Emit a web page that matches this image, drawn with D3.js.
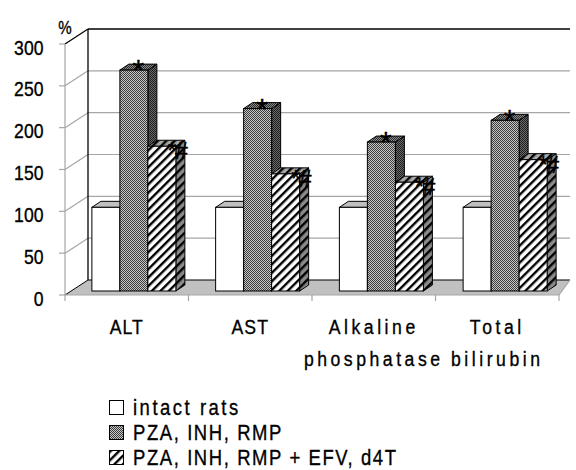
<!DOCTYPE html>
<html>
<head>
<meta charset="utf-8">
<script src="https://cdn.jsdelivr.net/npm/d3@7"></script>
<style>
  html, body { margin: 0; padding: 0; background: #fff; }
  svg { display: block; }
  text { font-family: "Liberation Sans", Arial, sans-serif; fill: #000; }
</style>
</head>
<body>
<svg id="chart" width="576" height="470"></svg>
<script>
// ---- data ----
const categories = [["ALT"], ["AST"], ["Alkaline", "phosphatase"], ["Total", "bilirubin"]];
const seriesNames = ["intact rats", "PZA, INH, RMP", "PZA, INH, RMP + EFV, d4T"];
const intact = [100, 100, 100, 100];
const pzaInhRmp = [264, 218, 178, 204];
const plusEfvD4t = [173, 140, 130, 157];
const markers = ["", "*", "*#"];
const yTicks = [0, 50, 100, 150, 200, 250, 300];

const series = [intact, pzaInhRmp, plusEfvD4t];

const svg = d3.select("#chart");
const defs = svg.append("defs");
const NARROW = 0.84;

// narrow text helper (condensed look of the original font)
function ntext(sel, x, y, str, size, anchor, spacing) {
  return sel.append("text")
    .attr("transform", `translate(${x},${y}) scale(${NARROW},1)`)
    .attr("text-anchor", anchor || "start")
    .attr("font-size", size)
    .attr("letter-spacing", spacing || 0)
    .attr("stroke", "#000").attr("stroke-width", 0.35)
    .text(str);
}

// ---- patterns ----
function checker(id, a, b) {
  const p = defs.append("pattern").attr("id", id).attr("patternUnits", "userSpaceOnUse")
    .attr("width", 2).attr("height", 2);
  p.append("rect").attr("width", 2).attr("height", 2).attr("fill", b);
  p.append("rect").attr("width", 1).attr("height", 1).attr("fill", a);
  p.append("rect").attr("x", 1).attr("y", 1).attr("width", 1).attr("height", 1).attr("fill", a);
}
checker("dotFront", "#3a3a3a", "#c8c8c8");
checker("dotTop", "#2a2a2a", "#8a8a8a");
checker("dotSide", "#1e1e1e", "#6a6a6a");
function hatch(id, bg) {
  const p = defs.append("pattern").attr("id", id).attr("patternUnits", "userSpaceOnUse")
    .attr("width", 6).attr("height", 6).attr("patternTransform", "rotate(45)");
  p.append("rect").attr("width", 6).attr("height", 6).attr("fill", bg);
  p.append("rect").attr("x", 0).attr("width", 2.4).attr("height", 6).attr("fill", "#000");
}
hatch("hatchFront", "#fff");
hatch("hatchTop", "#a8a8a8");
hatch("hatchSide", "#8a8a8a");

const fills = [
  { front: "#fff", top: "#c0c0c0", side: "#a0a0a0" },
  { front: "url(#dotFront)", top: "url(#dotTop)", side: "url(#dotSide)" },
  { front: "url(#hatchFront)", top: "url(#hatchTop)", side: "url(#hatchSide)" }
];

// ---- geometry ----
const front = { x0: 65, x1: 559, yBase: 295 };
const back = { x0: 88, x1: 570, yBase: 280 };
const yScaleFront = d3.scaleLinear().domain([0, 300]).range([front.yBase, 44]);
const yScaleBack = d3.scaleLinear().domain([0, 300]).range([back.yBase, 29]);
const barBase = 291;
const yBar = d3.scaleLinear().domain([0, 300]).range([barBase, barBase - (front.yBase - 44)]);
const xFront = d3.scaleBand().domain(d3.range(categories.length)).range([front.x0, front.x1]);
const xBar = d3.scaleBand().domain(d3.range(categories.length)).range([72, 567]);
const xInner = d3.scaleBand().domain(d3.range(series.length)).range([0, 84]);
const depthX = 9, depthY = 6;
const gridColor = "#a6a6a6";

// back wall + left wall grid
const gGrid = svg.append("g");
yTicks.filter(v => v > 0).forEach(v => {
  const edge = v === 300;
  gGrid.append("line")
    .attr("x1", front.x0).attr("y1", yScaleFront(v))
    .attr("x2", back.x0).attr("y2", yScaleBack(v))
    .attr("stroke", edge ? "#000" : gridColor).attr("stroke-width", edge ? 1.3 : 1.2);
  gGrid.append("line")
    .attr("x1", back.x0).attr("y1", yScaleBack(v))
    .attr("x2", back.x1).attr("y2", yScaleBack(v))
    .attr("stroke", edge ? "#000" : gridColor).attr("stroke-width", edge ? 1.3 : 1.2);
});
gGrid.append("line").attr("x1", back.x0).attr("x2", back.x0)
  .attr("y1", yScaleBack(300)).attr("y2", back.yBase).attr("stroke", "#000").attr("stroke-width", 1.3);

// floor
svg.append("path")
  .attr("d", d3.line()([[front.x0, front.yBase], [back.x0, back.yBase], [back.x1, back.yBase], [front.x1, front.yBase]]) + "Z")
  .attr("fill", "#c0c0c0").attr("stroke", "none");
svg.append("line").attr("x1", back.x0).attr("x2", back.x1).attr("y1", back.yBase).attr("y2", back.yBase)
  .attr("stroke", "#000").attr("stroke-width", 1.2);
svg.append("line").attr("x1", front.x0).attr("x2", back.x0).attr("y1", front.yBase).attr("y2", back.yBase)
  .attr("stroke", "#000").attr("stroke-width", 1);
svg.append("line").attr("x1", front.x0).attr("x2", front.x1).attr("y1", front.yBase).attr("y2", front.yBase)
  .attr("stroke", gridColor).attr("stroke-width", 1.2);
svg.append("line").attr("x1", front.x1).attr("x2", back.x1).attr("y1", front.yBase).attr("y2", back.yBase)
  .attr("stroke", gridColor).attr("stroke-width", 1.2);

// front value axis
const gAxis = svg.append("g");
gAxis.append("line").attr("x1", front.x0).attr("x2", front.x0)
  .attr("y1", yScaleFront(300)).attr("y2", front.yBase).attr("stroke", gridColor).attr("stroke-width", 1.2);
yTicks.forEach(v => {
  gAxis.append("line").attr("x1", front.x0 - 6).attr("x2", front.x0)
    .attr("y1", yScaleFront(v)).attr("y2", yScaleFront(v)).attr("stroke", gridColor).attr("stroke-width", 1.2);
  ntext(gAxis, 43.5, yScaleFront(v) + 10.5, v, 21, "end");
});
ntext(svg, 65, 34, "%", 18, "middle");

// category ticks
d3.range(categories.length + 1).forEach(i => {
  const x = i < categories.length ? xFront(i) : front.x1;
  svg.append("line").attr("x1", x).attr("x2", x).attr("y1", front.yBase).attr("y2", front.yBase + 6)
    .attr("stroke", gridColor).attr("stroke-width", 1.2);
});

// bars
const gBars = svg.append("g");
categories.forEach((c, i) => {
  const gx = xBar(i) + (xBar.bandwidth() - 84) / 2;
  series.forEach((s, k) => {
    const x0 = gx + xInner(k), x1 = x0 + xInner.bandwidth();
    const yt = yBar(s[i]), yb = barBase;
    const f = fills[k];
    gBars.append("path")
      .attr("d", `M${x1},${yb}L${x1 + depthX},${yb - depthY}L${x1 + depthX},${yt - depthY}L${x1},${yt}Z`)
      .attr("fill", f.side).attr("stroke", "#000").attr("stroke-width", 1).attr("stroke-linejoin", "round");
    gBars.append("path")
      .attr("d", `M${x0},${yt}L${x0 + depthX},${yt - depthY}L${x1 + depthX},${yt - depthY}L${x1},${yt}Z`)
      .attr("fill", f.top).attr("stroke", "#000").attr("stroke-width", 1).attr("stroke-linejoin", "round");
    gBars.append("rect").attr("x", x0).attr("y", yt).attr("width", x1 - x0).attr("height", yb - yt)
      .attr("fill", f.front).attr("stroke", "#000").attr("stroke-width", 1);
    if (markers[k] === "*") {
      gBars.append("text").attr("x", (x0 + x1) / 2 + depthX / 2).attr("y", yt + 10)
        .attr("text-anchor", "middle").attr("font-size", 30)
        .attr("stroke", "#000").attr("stroke-width", 0.4).text("*");
    } else if (markers[k] === "*#") {
      gBars.append("text").attr("x", x1 + 1).attr("y", yt + 13)
        .attr("text-anchor", "middle").attr("font-size", 23).attr("letter-spacing", -1.5)
        .attr("stroke", "#000").attr("stroke-width", 0.4).text("*#");
    }
  });
});

// category labels
categories.forEach((lines, i) => {
  const cx = xFront(i) + xFront.bandwidth() / 2;
  lines.forEach((t, j) => {
    const spaced = lines.length > 1;
    ntext(svg, cx, 334 + j * 32, t, 21, "middle", spaced ? 4.2 : 1.2);
  });
});

// legend
const legendFills = ["#fff", "url(#dotFront)", "url(#hatchFront)"];
seriesNames.forEach((name, k) => {
  const y = 400 + k * 25;
  svg.append("rect").attr("x", 109.5).attr("y", y + 0.5).attr("width", 14).attr("height", 14)
    .attr("fill", legendFills[k]).attr("stroke", "#000").attr("stroke-width", 1);
  ntext(svg, 133, y + 15, name, 22, "start", k === 0 ? 3.0 : 1.9);
});
</script>
</body>
</html>
